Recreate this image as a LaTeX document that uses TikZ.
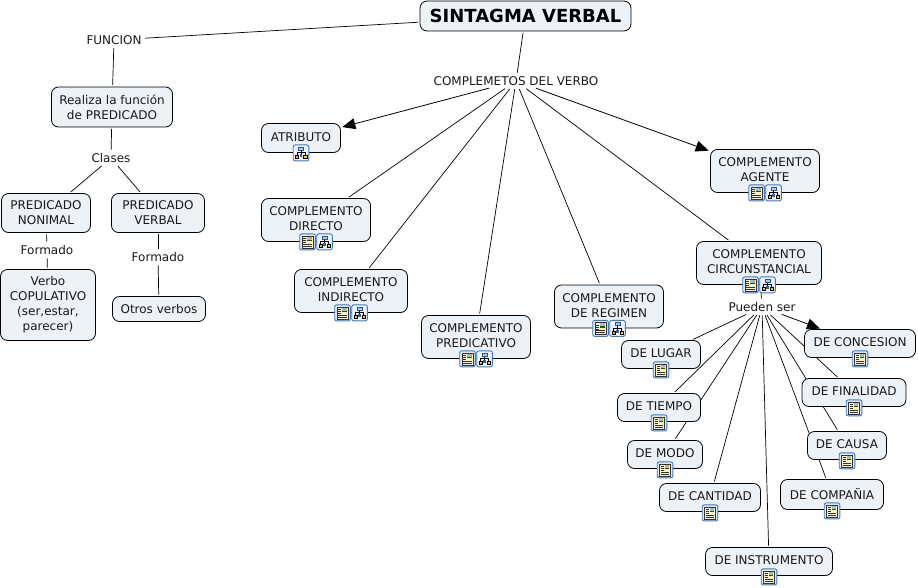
\documentclass[tikz,border=0pt]{standalone}
\usepackage{fontspec}
\setmainfont{DejaVu Sans}
\usepackage{xcolor}
\usetikzlibrary{arrows.meta}
\usetikzlibrary{backgrounds}
\definecolor{boxfill}{HTML}{ECF2F5}
\definecolor{iconblue}{HTML}{3F78C4}
\definecolor{iconpale}{HTML}{DCE9F8}
\definecolor{paper}{HTML}{FBF3C4}
\tikzset{
  docicon/.pic={
    \draw[iconblue,fill=iconpale,rounded corners=2pt,line width=0.9pt] (-7.8,-8) rectangle (7.8,8);
    \draw[black!80,fill=paper,line width=0.6pt] (-5.4,-6) rectangle (5.4,6);
    \fill[iconblue!50!white] (-0.4,-5) rectangle (4.4,-0.6);
    \fill[green!40!black] (-0.4,-2.2) rectangle (4.4,-0.6);
    \fill[orange!80] (2.6,-4.6) rectangle (4,-3.4);
    \foreach \ly in {-3.6,-1.6,0.4} \draw[black!80,line width=0.4pt] (-4.2,\ly) -- (-1.2,\ly);
    \foreach \ly in {2.2,4.2} \draw[black!80,line width=0.4pt] (-4.2,\ly) -- (4.2,\ly);
  },
  treeicon/.pic={
    \draw[iconblue,fill=iconpale!50!white,rounded corners=2pt,line width=0.9pt] (-7.8,-8) rectangle (7.8,8);
    \draw[black,line width=0.5pt] (0,-3) -- (0,2) (-4,3) -- (-4,-0.6) -- (4,-0.6) -- (4,3);
    \draw[iconblue!70!black,fill=iconblue!40!white,line width=0.6pt] (-2.6,-6) rectangle (2.6,-3);
    \draw[black,fill=orange!70,line width=0.4pt] (-5.8,2.6) rectangle (-2.6,5.6);
    \draw[black,fill=yellow!70!orange,line width=0.4pt] (2.6,2.6) rectangle (5.8,5.6);
    \fill[iconblue!80!black] (-1.4,1.4) rectangle (1.4,4.4);
  }
}
\begin{document}
\begin{tikzpicture}[
    x=1pt, y=-1pt,
    every node/.style={font=\fontsize{12}{15}\selectfont,text=black!90},
    box/.style={draw=black,fill=boxfill,rounded corners=7pt,align=center,inner sep=0pt,line width=0.8pt},
    sz/.style 2 args={minimum width=#1pt,minimum height=#2pt},
    link/.style={align=center,inner sep=2pt},
    conn/.style={line width=0.7pt,shorten <=1.5pt,shorten >=1.5pt},
    tip/.style={-{Triangle[length=13pt,width=11pt]},line width=0.8pt}]
    \useasboundingbox (0,0) rectangle (918,588);
    % left branch
    \node[box,sz={211}{30},font=\fontsize{18}{22}\selectfont\bfseries,text=black] (sv) at (525.5,16) {SINTAGMA VERBAL};
    \node[link] (fn) at (114,40) {FUNCION};
    \node[box,sz={121}{40}] (rp) at (112,107) {Realiza la función\\de PREDICADO};
    \node[link] (cl) at (111,158) {Clases};
    \node[box,sz={89}{39}] (pn) at (46,213) {PREDICADO\\NONIMAL};
    \node[box,sz={93}{39}] (pv) at (158,213) {PREDICADO\\VERBAL};
    \node[link] (fa) at (47,250) {Formado};
    \node[link] (fb) at (158,257) {Formado};
    \node[box,sz={95}{71}] (vc) at (48,305) {Verbo\\COPULATIVO\\(ser,estar,\\parecer)};
    \node[box,sz={93}{25}] (ov) at (159,309) {Otros verbos};
    % complements
    \node[link] (cv) at (516,81) {COMPLEMETOS DEL VERBO};
    \node[box,sz={79}{29}] (atr) at (301,138) {ATRIBUTO\\[-13pt]};
    \node[box,sz={109}{43}] (cd) at (316,220) {COMPLEMENTO\\DIRECTO\\[-13pt]};
    \node[box,sz={113}{43}] (ci) at (351,291) {COMPLEMENTO\\INDIRECTO\\[-13pt]};
    \node[box,sz={109}{43}] (cp) at (476,337) {COMPLEMENTO\\PREDICATIVO\\[-13pt]};
    \node[box,sz={109}{43}] (cr) at (609,306.5) {COMPLEMENTO\\DE REGIMEN\\[-13pt]};
    \node[box,sz={109}{43}] (ca) at (765,171) {COMPLEMENTO\\AGENTE\\[-13pt]};
    \node[box,sz={125}{43}] (cc) at (759,263) {COMPLEMENTO\\CIRCUNSTANCIAL\\[-13pt]};
    \node[link] (ps) at (762,307) {Pueden ser};
    % kinds of circumstance
    \node[box,sz={111}{28}] (con) at (860,343.5) {DE CONCESION\\[-13pt]};
    \node[box,sz={104}{28}] (fin) at (854,392.5) {DE FINALIDAD\\[-13pt]};
    \node[box,sz={79}{28}] (cau) at (847,445.5) {DE CAUSA\\[-13pt]};
    \node[box,sz={103}{30}] (com) at (832,494.5) {DE COMPAÑIA\\[-13pt]};
    \node[box,sz={79}{28}] (lug) at (661,354.5) {DE LUGAR\\[-13pt]};
    \node[box,sz={83}{28}] (tie) at (659,407.5) {DE TIEMPO\\[-13pt]};
    \node[box,sz={75}{28}] (mod) at (665,454.5) {DE MODO\\[-13pt]};
    \node[box,sz={101}{28}] (can) at (710,497.5) {DE CANTIDAD\\[-13pt]};
    \node[box,sz={127}{28}] (ins) at (769,561.5) {DE INSTRUMENTO\\[-13pt]};
    \begin{pgfonlayer}{background}
    \path[conn]
    (sv) edge (fn)
         edge (cv)
    (fn) edge (rp)
    (rp) edge (cl)
    (cl) edge (pn)
         edge (pv)
    (pn) edge (fa)
    (fa) edge (vc)
    (pv) edge (fb)
    (fb) edge (ov)
    (cv) edge (cd)
         edge (ci)
         edge (cp)
         edge (cr)
         edge (cc)
         edge [tip] (atr)
         edge [tip] (ca)
    (cc) edge (ps)
    (ps) edge [tip] (con)
         edge (fin)
         edge (cau)
         edge (com)
         edge (lug)
         edge (tie)
         edge (mod)
         edge (can)
         edge (ins) ;
    \end{pgfonlayer}
    \pic at (atr.south) {treeicon};
    \foreach \n in {cd,ci,cp,cr,ca,cc} {
      \pic at ([xshift=-8.5pt]\n.south) {docicon};
      \pic at ([xshift=8.5pt]\n.south) {treeicon};
    }
    \foreach \n in {con,fin,cau,com,lug,tie,mod,can,ins}
      \pic at ([yshift=-1pt]\n.south) {docicon};
  \end{tikzpicture}
\end{document}
